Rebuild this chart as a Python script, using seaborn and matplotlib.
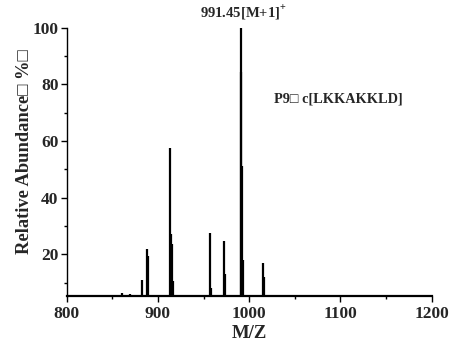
import matplotlib
matplotlib.use("Agg")
import matplotlib.pyplot as plt
import seaborn as sns
from matplotlib.ticker import MultipleLocator

# peak list (m/z, relative abundance %)
peak_mz = [860.5, 869.5, 882.5, 887.8, 888.8, 913.6, 914.6, 915.6, 916.6,
           957.5, 958.5, 972.7, 973.7, 990.8, 991.4, 991.9, 992.7,
           1014.8, 1015.8]
peak_int = [6.2, 6.0, 10.8, 21.9, 19.5, 57.6, 27.2, 23.6, 10.6,
            27.6, 8.0, 24.7, 13.0, 100.0, 84.5, 51.0, 18.0,
            17.0, 12.0]

x_ticks = [800, 900, 1000, 1100, 1200]
y_ticks = [20, 40, 60, 80, 100]
baseline = 5.3

main_label = "991.45[M+1]$^{+}$"
sample_label = "P9\u25a1 c[LKKAKKLD]"

sns.set_theme(style="ticks")
fam = ["Liberation Serif", "DejaVu Sans"]
plt.rcParams["font.family"] = fam
plt.rcParams["font.weight"] = "bold"
plt.rcParams["mathtext.fontset"] = "custom"
plt.rcParams["mathtext.rm"] = "Liberation Serif:bold"
plt.rcParams["mathtext.bf"] = "Liberation Serif:bold"

fig = plt.figure(figsize=(4.51, 3.45), dpi=100)
ax = fig.add_axes([0.148, 0.142, 0.809, 0.778])

ax.vlines(peak_mz, baseline, peak_int, color="black", lw=1.6)

ax.set_xlim(800, 1200)
ax.set_ylim(baseline, 100)
ax.set_xticks(x_ticks)
ax.set_yticks(y_ticks)
ax.xaxis.set_minor_locator(MultipleLocator(50))
ax.yaxis.set_minor_locator(MultipleLocator(10))
ax.tick_params(axis="both", which="major", direction="out", length=4.5,
               width=1, color="black", labelsize=12.5, pad=1.5)
ax.tick_params(axis="x", which="major", pad=2.5)
ax.tick_params(axis="both", which="minor", direction="out", length=2.5,
               width=1, color="black")
for lab in ax.get_xticklabels() + ax.get_yticklabels():
    lab.set_fontweight("bold")

sns.despine(ax=ax)
ax.spines["left"].set_linewidth(1.0)
ax.spines["bottom"].set_linewidth(1.6)
for s in ("left", "bottom"):
    ax.spines[s].set_color("black")

ax.set_xlabel("M/Z", fontsize=13.5, fontweight="bold", labelpad=2)
ax.set_ylabel("Relative Abundance\u25a1 %\u25a1", fontsize=13.3,
              fontweight="bold")
ax.yaxis.set_label_coords(-0.092, 0.537)

ax.text(994, 105.3, main_label, ha="center", va="center", fontsize=10.5,
        fontweight="bold", clip_on=False)
ax.text(1027, 74.8, sample_label, ha="left", va="center", fontsize=10.3,
        fontweight="bold")

fig.savefig("out.png", dpi=100)
